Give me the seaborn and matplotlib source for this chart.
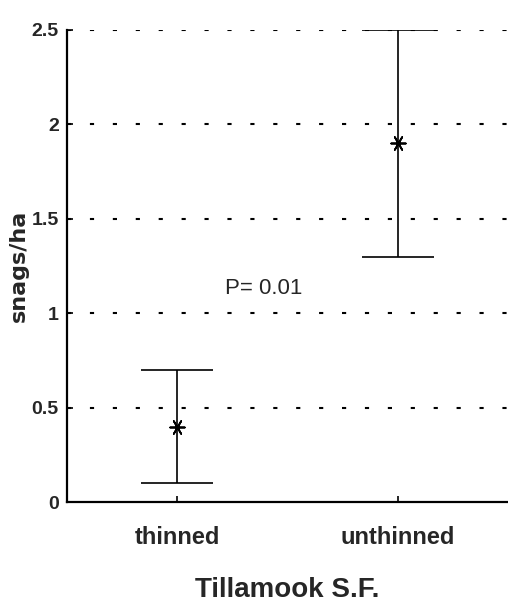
import matplotlib
matplotlib.use("Agg")
import matplotlib.pyplot as plt
from matplotlib import font_manager
import seaborn as sns
import pandas as pd

categories = ["thinned", "unthinned"]
means = [0.4, 1.9]
lower = [0.1, 1.3]
upper = [0.7, 2.5]
yticks = [0, 0.5, 1, 1.5, 2, 2.5]
ytick_labels = ["0", "0.5", "1", "1.5", "2", "2.5"]

names = {f.name for f in font_manager.fontManager.ttflist}
narrow = "Liberation Sans Narrow" if "Liberation Sans Narrow" in names else "Liberation Sans"

sns.set_theme(style="white")
plt.rcParams["font.family"] = [narrow, "DejaVu Sans"]

df = pd.DataFrame({"group": categories, "mean": means, "lo": lower, "hi": upper})

fig = plt.figure(figsize=(5.08, 6.08), dpi=100)
ax = fig.add_axes([0.132, 0.174, 0.868, 0.777])

ax.errorbar(range(len(categories)), df["mean"],
            yerr=[df["mean"] - df["lo"], df["hi"] - df["mean"]],
            fmt="none", ecolor="black", elinewidth=1.2, capsize=26, capthick=1.2)
sns.scatterplot(data=df, x="group", y="mean", ax=ax, marker=(6, 2, 90), s=110,
                color="black", linewidth=1.3, zorder=5)

ax.set_xlim(-0.5, 1.5)
ax.set_ylim(0, 2.5)
ax.set_yticks(yticks)
ax.set_yticklabels(ytick_labels, fontsize=14, fontweight="bold")
ax.set_xticks(range(len(categories)))
ax.set_xticklabels(categories, fontsize=17, fontweight="bold")
ax.tick_params(axis="both", direction="in", length=4, width=1.2, color="black",
               left=True, bottom=True, pad=6)
ax.tick_params(axis="x", pad=17)

for y in yticks[1:]:
    ax.axhline(y, color="black", linestyle=(0, (2, 9)), linewidth=1.5, zorder=1)

for s in ["top", "right"]:
    ax.spines[s].set_visible(False)
for s in ["left", "bottom"]:
    ax.spines[s].set_color("black")
    ax.spines[s].set_linewidth(1.6)

ax.set_ylabel("snags/ha", fontsize=16, fontweight="bold", family="DejaVu Sans", labelpad=2)
ax.set_xlabel("Tillamook S.F.", fontsize=20, fontweight="bold", labelpad=20)
ax.text(0.39, 1.13, "P= 0.01", fontsize=16, ha="center", va="center")

fig.savefig("out.png", dpi=100, facecolor="white")
